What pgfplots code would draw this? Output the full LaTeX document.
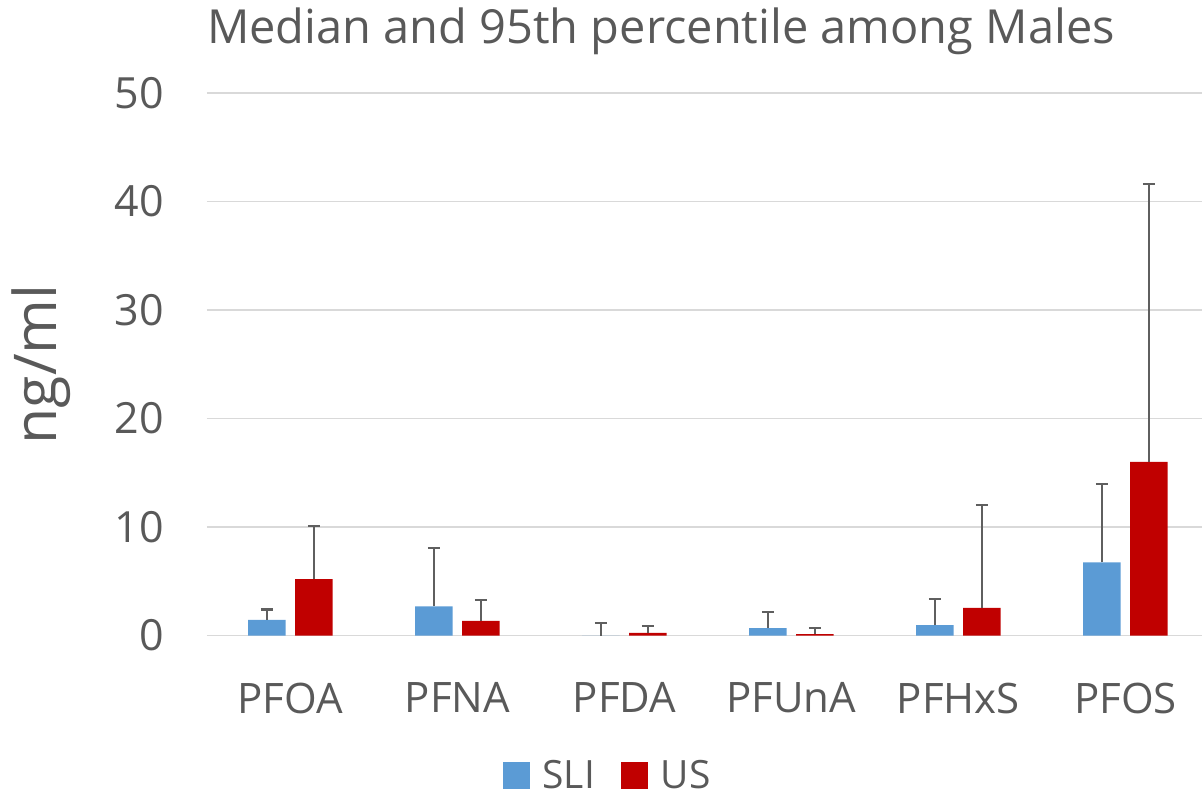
\documentclass[border=0pt]{standalone}
\usepackage{pgfplots}
\usepackage{pgfplotstable}
\pgfplotsset{compat=1.18}
\usepackage{fontspec}
\setmainfont{Open Sans}
\definecolor{sliblue}{HTML}{5B9BD5}
\definecolor{usred}{HTML}{C00000}
\definecolor{txt}{HTML}{595959}
\definecolor{gridc}{HTML}{D9D9D9}
\definecolor{errc}{HTML}{5F5F5F}

% bars are placed at category index -/+ 0.1406 (half bar width + half gap)
\pgfplotstableread{
x m e
-0.1406 1.45 0.95
0.8594 2.70 5.40
1.8594 0 1.17
2.8594 0.68 1.47
3.8594 0.96 2.44
4.8594 6.75 7.25
}\sli
\pgfplotstableread{
x m e
0.1406 5.20 4.90
1.1406 1.36 1.94
2.1406 0.25 0.65
3.1406 0.13 0.59
4.1406 2.56 9.44
5.1406 16.0 25.6
}\us

\begin{document}
\begin{tikzpicture}
\begin{axis}[name=ax, scale only axis, width=996pt, height=543pt,
  xmin=-0.5, xmax=5.46, ymin=0, ymax=50, ytick={0,10,...,50},
  xtick={0,...,5}, xticklabels={PFOA,PFNA,PFDA,PFUnA,PFHxS,PFOS},
  axis line style={draw=none}, major tick length=0pt,
  ymajorgrids, grid style={draw=gridc, line width=1.5pt},
  /pgf/number format/assume math mode=true,
  yticklabel style={font=\fontsize{43}{43}\selectfont, text=txt, inner sep=0pt, anchor=east, xshift=-43pt},
  xticklabel style={font=\fontsize{42}{42}\selectfont, text=txt, inner sep=0pt, anchor=north, yshift=-47pt},
  ylabel={ng/ml},
  ylabel style={at={(rel axis cs:-0.1662,0.5)}, anchor=center, font=\fontsize{59}{59}\selectfont, text=txt, inner sep=0pt},
  legend style={at={(rel axis cs:0.4026,-0.258)}, anchor=center, draw=none, fill=none, legend columns=2,
    font=\fontsize{39}{39}\selectfont, text=txt,
    /tikz/every odd column/.append style={column sep=11pt},
    /tikz/every even column/.append style={column sep=24pt}},
  legend image code/.code={\fill[#1] (0pt,-13pt) rectangle (27pt,14pt);},
  errstyle/.style={draw=none, mark=none, forget plot,
    error bars/.cd, y dir=plus, y explicit,
    error bar style={line width=2.2pt, draw=errc, solid},
    error mark options={rotate=90, mark size=6pt, line width=2.2pt, draw=errc}},
]
\addplot[ybar, bar width=37.5pt, bar shift=0pt, fill=sliblue, draw=none]
  table[x=x, y=m] {\sli};
\addlegendentry{SLI}
\addplot[ybar, bar width=37.5pt, bar shift=0pt, fill=usred, draw=none]
  table[x=x, y=m] {\us};
\addlegendentry{US}
\addplot[errstyle] table[x=x, y=m, y error=e] {\sli};
\addplot[errstyle] table[x=x, y=m, y error=e] {\us};
\end{axis}
\node[anchor=base west, font=\fontsize{47}{47}\selectfont, text=txt, inner sep=0pt] at ([yshift=49pt]ax.north west) {Median and 95th percentile among Males};
\path ([xshift=-207pt,yshift=-164pt]ax.south west) rectangle ([yshift=93pt]ax.north east);
\end{tikzpicture}
\end{document}
